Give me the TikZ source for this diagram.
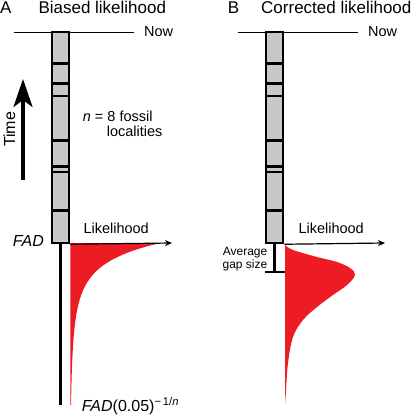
\documentclass[tikz,border=0pt]{standalone}
\usepackage{fontspec}
\setmainfont{Liberation Sans}
\usetikzlibrary{arrows.meta, positioning, calc}
\definecolor{colgray}{RGB}{200, 200, 200}
\definecolor{likred}{RGB}{237, 28, 36}
\definecolor{ink}{RGB}{0, 0, 0}

\begin{document}
\begin{tikzpicture}[
    x=1pt, y=-1pt,
    ttl/.style     = {font=\fontsize{17}{20}\selectfont\color{ink}, inner sep=0pt},
    lbl/.style     = {font=\fontsize{14.5}{14.3}\selectfont\color{ink}, inner sep=0pt},
    small/.style   = {font=\fontsize{12}{13.3}\selectfont\color{ink}, inner sep=0pt, align=right},
    col/.style     = {draw=ink, line width=2.5pt, fill=colgray, minimum width=17pt, minimum height=211pt, inner sep=0pt},
    band/.style    = {color=ink, line width=2.5pt},
    nowline/.style = {color=ink, line width=0.9pt},
    axis/.style    = {color=ink, line width=1.2pt, -{Stealth[length=7pt, width=6pt]}},
    lik/.style     = {fill=likred},
    timearr/.style = {color=ink, line width=3.2pt, -{Stealth[length=28pt, width=19pt, inset=7pt]}},
    gapbar/.style  = {color=ink, line width=2.5pt},
  ]
    \useasboundingbox (0,0) rectangle (410,415);

    % --- panel A ---
    \node[ttl, anchor=base west] (tA)  at (0, 13.3) {A};
    \node[ttl, anchor=base west] (ttA) at (38.3, 13.3) {Biased likelihood};

    \coordinate (nowAl) at (14, 32);
    \coordinate (nowAr) at (134, 32);
    \draw[nowline] (nowAl) -- (nowAr);
    \node[lbl, anchor=base west] (nowA) at (144, 36) {Now};

    % red likelihood, decaying below FAD
    \fill[lik] (70.25, 243) -- plot[domain=0:162, samples=120]
      ({70.25 + 70*exp(-\x/18) + 20*exp(-\x/50)}, {243 + \x}) -- (70.25, 405) -- cycle;

    % column of localities
    \node[col] (colA) at (60.5, 137.5) {};
    \foreach \y in {63.5, 83.5, 96, 140.7, 166.4, 172, 210.5}
      \draw[band] (52,\y) -- (69,\y);

    \coordinate (baseA) at (60.5, 405);
    \draw[gapbar] (colA.south) -- (baseA);

    \coordinate (axA) at (172, 243);
    \draw[axis] (colA.south east) -- (axA);
    \node[lbl, anchor=base west] (likA) at (83.3, 233.3) {Likelihood};

    \node[lbl, anchor=base east] (fad) at (44, 246) {\fontsize{16}{18}\selectfont\textit{FAD}};
    \node[lbl, anchor=base west] (fadn) at (81.7, 411.7)
      {\fontsize{16}{18}\selectfont\textit{FAD}(0.05)\textsuperscript{−\,1/\textit{n}}};

    % time arrow
    \coordinate (tBot) at (23, 180);
    \coordinate (tTop) at (23, 79);
    \draw[timearr] (tBot) -- (tTop);
    \node[lbl, rotate=90, anchor=base] (time) at (15, 129.5) {\fontsize{16}{18}\selectfont Time};

    \node[lbl, anchor=base west, align=left] (nloc) at (82.7, 136)
      {\textit{n} = 8 fossil\\\hspace*{24pt}localities};

    % --- panel B ---
    \node[ttl, anchor=base west] (tB)  at (227.7, 13.3) {B};
    \node[ttl, anchor=base west] (ttB) at (261, 13.3) {Corrected likelihood};

    \coordinate (nowBl) at (238, 32);
    \coordinate (nowBr) at (358, 32);
    \draw[nowline] (nowBl) -- (nowBr);
    \node[lbl, anchor=base west] (nowB) at (368, 36) {Now};

    % red likelihood, shifted by the gap
    \fill[lik] plot[smooth, tension=0.6] coordinates {(285,245) (293,250) (317,257) (337,262) (350,268)
      (355,275) (347,285) (333,295) (317,307) (303,320) (293,337) (288,363) (286,390) (285,405)} -- cycle;

    \node[col] (colB) at (274.6, 137.5) {};
    \foreach \y in {63.5, 83.5, 96, 140.7, 166.4, 172, 210.5}
      \draw[band] (266.1,\y) -- (283.1,\y);

    \coordinate (axB) at (385, 243);
    \draw[axis] (colB.south east) -- (axB);
    \node[lbl, anchor=base west] (likB) at (298.3, 233.3) {Likelihood};

    % average gap bar
    \coordinate (gapB) at (274.6, 272);
    \draw[gapbar] (colB.south) -- (gapB);
    \draw[gapbar] ([xshift=-10pt]gapB) -- ([xshift=10pt]gapB);
    \node[small, anchor=east] (gaplbl) at (267.5, 259) {Average\\gap size};

  \end{tikzpicture}
\end{document}
